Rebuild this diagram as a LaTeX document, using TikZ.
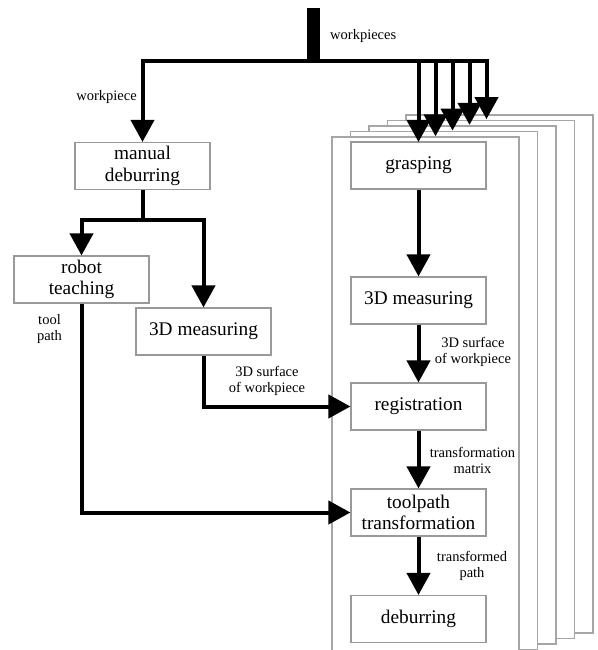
\documentclass[tikz,border=0pt]{standalone}
\usepackage{fontspec}
\setmainfont{Liberation Serif}
\usetikzlibrary{arrows.meta}

\definecolor{boxgray}{gray}{0.6}
\definecolor{framegray}{gray}{0.65}

\begin{document}
\begin{tikzpicture}[x=1pt, y=-1pt,
    procbox/.style={draw=boxgray, line width=1.1pt, fill=white, minimum width=135pt,
        minimum height=47pt, inner sep=0pt, align=center,
        font=\fontsize{19.3}{21.5}\selectfont},
    note/.style={align=center, inner sep=0pt, font=\fontsize{14.5}{16}\selectfont},
    flowline/.style={line width=4pt},
    flow/.style={line width=4pt, -{Triangle[width=23pt,length=22pt]}},
    frame/.style={draw=framegray, line width=1.1pt, fill=white}]

    \useasboundingbox (0,0) rectangle (597,650);

    % Stacked cells, back to front
    \foreach \k in {4,3,2,1,0} {
        \draw[frame] ({332+18.5*\k},{137-5.5*\k}) rectangle ++(187,518);
    }

    % Process boxes
    \node[procbox] (manual) at (142.5,166) {manual\\deburring};
    \node[procbox] (teach) at (81.5,279.5) {robot\\teaching};
    \node[procbox] (scanL) at (203.5,331.5) {3D measuring};
    \node[procbox] (grasp) at (418.5,165.5) {grasping};
    \node[procbox] (scanR) at (418.5,300.5) {3D measuring};
    \node[procbox] (regist) at (418.5,406.5) {registration};
    \node[procbox] (tpath) at (418.5,512.5) {toolpath\\transformation};
    \node[procbox] (deburr) at (418.5,619) {deburring};

    % Feed of workpieces
    \coordinate (feed) at (313.5,8);
    \coordinate (bus) at (313.5,61);
    \coordinate (busR) at (486.5,61);
    \draw[line width=13pt] (feed) -- (bus);
    \draw[flow] (busR) -- (manual.north |- bus) -- (manual.north);
    \foreach \k in {0,...,4} {
        \coordinate (tip\k) at ({418.5+17*\k},{142-5.7*\k});
        \draw[flow, shorten <=-2pt] (tip\k |- bus) -- (tip\k);
    }

    % Left branch
    \coordinate (fork) at (142.5,220);
    \draw[flowline] (manual.south) -- (fork);
    \draw[flow] (fork) -| (teach.north);
    \draw[flow] (fork) -| (scanL.north);
    \draw[flow] (scanL.south) |- (regist.west);
    \draw[flow] (teach.south) |- (tpath.west);

    % Right column
    \draw[flow] (grasp.south) -- (scanR.north);
    \draw[flow] (scanR.south) -- (regist.north);
    \draw[flow] (regist.south) -- (tpath.north);
    \draw[flow] (tpath.south) -- (deburr.north);

    % Labels
    \node[note, anchor=west] (lblfeed) at (330,36) {workpieces};
    \node[note, anchor=east] (lblwp) at (137,97) {workpiece};
    \node[note] (lbltool) at (49.5,329.5) {tool\\path};
    \node[note] (lblsurfL) at (267,381) {3D surface\\of workpiece};
    \node[note] (lblsurfR) at (473,352) {3D surface\\of workpiece};
    \node[note] (lblmat) at (472.5,460.5) {transformation\\matrix};
    \node[note] (lbltf) at (472,565.5) {transformed\\path};

\end{tikzpicture}
\end{document}
